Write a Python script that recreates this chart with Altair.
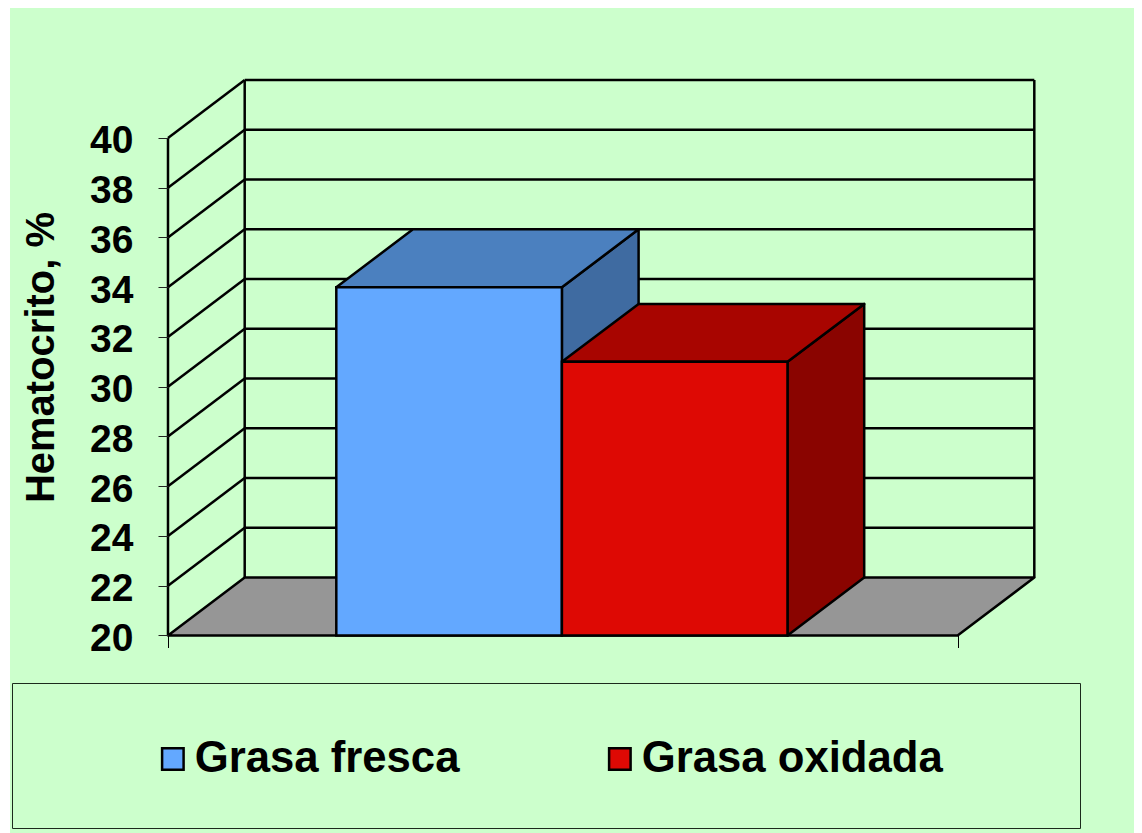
import altair as alt
import pandas as pd

# values
categories = ["Grasa fresca", "Grasa oxidada"]
values = [34.0, 31.0]
bar_start = [0.746, 1.746]
bar_end = [1.746, 2.746]
front_colors = ["#63A8FF", "#DE0904"]
top_colors = ["#4B80BF", "#A80500"]
side_colors = ["#3F6BA1", "#8A0400"]
y_ticks = [20, 22, 24, 26, 28, 30, 32, 34, 36, 38, 40]
x_ticks = [0, 3.5]
depth_x = 0.34
depth_y = 2.33
floor_end = 3.5
BASE = 20

PAGE_W, PAGE_H = 1126, 825
x_scale = alt.Scale(domain=[-0.7092, 4.2819], range=[0, PAGE_W], nice=False, zero=False)
y_scale = alt.Scale(domain=[12.06, 45.226], range=[PAGE_H, 0], nice=False, zero=False)

FONT = "Liberation Sans"

x_axis = alt.Axis(
    values=x_ticks, labels=False, title=None, domain=False, grid=False, zindex=1,
    tickSize=12, tickColor="black", tickWidth=1, offset=-197.5,
)
y_axis = alt.Axis(
    values=y_ticks, format="d", title="Hematocrito, %", domain=False, grid=False, zindex=1,
    tickSize=10, tickColor="#222222", tickWidth=1, offset=-160,
    labelFont=FONT, labelFontSize=39, labelFontWeight="bold", labelColor="black",
    labelPadding=25, labelOffset=3,
    titleFont=FONT, titleFontSize=40, titleFontWeight="bold", titleColor="black",
    titleAngle=270, titleAnchor="middle", titleX=-107, titleY=349,
    titleBaseline="bottom",
)
X = alt.X("x:Q", scale=x_scale, axis=x_axis)
Y = alt.Y("y:Q", scale=y_scale, axis=y_axis)

background = alt.Chart(pd.DataFrame({"a": [0]})).mark_rect(color="#CCFFCC").encode(
    x=alt.value(2), x2=alt.value(PAGE_W), y=alt.value(-2), y2=alt.value(PAGE_H)
)
legend_box = alt.Chart(pd.DataFrame({"a": [0]})).mark_rect(
    fill="#CCFFCC", stroke="#1c2a1c", strokeWidth=1
).encode(x=alt.value(4.5), x2=alt.value(1072.5), y=alt.value(675.5), y2=alt.value(820.5))

# floor
floor_df = pd.DataFrame({
    "y": [BASE, BASE + depth_y],
    "x": [0, depth_x],
    "x2": [floor_end, floor_end + depth_x],
})
floor = alt.Chart(floor_df).mark_area(
    orient="horizontal", fill="#969696", stroke="black", strokeWidth=2.5, strokeJoin="round"
).encode(y=Y, x=X, x2="x2:Q")

# walls: rules in value space
rules = []
for v in y_ticks[1:]:
    rules.append({"x": 0, "x2": depth_x, "y": v, "y2": v + depth_y})
    rules.append({"x": depth_x, "x2": floor_end + depth_x, "y": v + depth_y, "y2": v + depth_y})
for xx in [depth_x, floor_end + depth_x]:
    rules.append({"x": xx, "x2": xx, "y": BASE + depth_y, "y2": y_ticks[-1] + depth_y})
rules.append({"x": 0, "x2": 0, "y": BASE, "y2": y_ticks[-1]})
walls = alt.Chart(pd.DataFrame(rules)).mark_rule(color="black", strokeWidth=2.5).encode(
    x=X, x2="x2:Q", y=Y, y2="y2:Q"
)

layers = [background, legend_box, floor, walls]

legend = alt.Legend(
    title=None, orient="none", legendX=143, legendY=729, direction="horizontal",
    symbolType="square", symbolSize=462, symbolStrokeColor="black", symbolStrokeWidth=2.5,
    symbolOpacity=1, labelFont=FONT, labelFontSize=43.7, labelFontWeight="bold",
    labelColor="black", labelOffset=0, labelLimit=500, columnPadding=138, padding=0,
)

for i, cat in enumerate(categories):
    x0, x1, v = bar_start[i], bar_end[i], values[i]
    side_df = pd.DataFrame({
        "x": [x1, x1 + depth_x], "y": [v, v + depth_y], "y2": [BASE, BASE + depth_y]
    })
    top_df = pd.DataFrame({
        "y": [v, v + depth_y], "x": [x0, x0 + depth_x], "x2": [x1, x1 + depth_x]
    })
    side = alt.Chart(side_df).mark_area(
        fill=side_colors[i], stroke="black", strokeWidth=2.5, strokeJoin="round"
    ).encode(x=X, y=Y, y2="y2:Q")
    top = alt.Chart(top_df).mark_area(
        orient="horizontal", fill=top_colors[i], stroke="black", strokeWidth=2.5, strokeJoin="round"
    ).encode(y=Y, x=X, x2="x2:Q")
    layers += [side, top]

front_df = pd.DataFrame({
    "cat": categories, "x": bar_start, "x2": bar_end, "y": values, "y2": [BASE, BASE]
})
fronts = alt.Chart(front_df).mark_rect(stroke="black", strokeWidth=2.5, opacity=1).encode(
    x=X, x2="x2:Q", y=Y, y2="y2:Q",
    color=alt.Color("cat:N", scale=alt.Scale(domain=categories, range=front_colors), legend=legend),
)
layers.append(fronts)

chart = alt.layer(*layers).properties(
    width=PAGE_W, height=PAGE_H, padding=0,
    autosize=alt.AutoSizeParams(type="none"),
    background="white",
).configure_view(stroke=None)

chart.save("out.html", embed_options={"renderer": "svg", "actions": False})
